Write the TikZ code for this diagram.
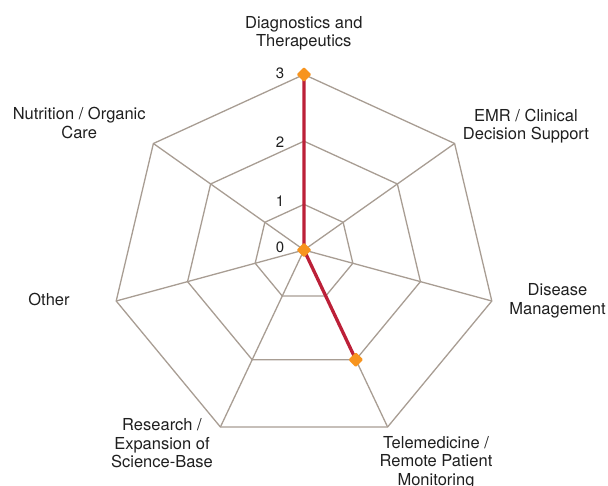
\documentclass[tikz,border=0pt]{standalone}
\usepackage{fontspec}
\setmainfont{TeX Gyre Heros}
\usetikzlibrary{calc,shapes.geometric}
\definecolor{gridc}{RGB}{168,157,147}
\definecolor{datared}{RGB}{188,32,56}
\definecolor{markorange}{RGB}{247,148,30}
\begin{document}
\begin{tikzpicture}[x=1pt,y=-1pt,
  grid/.style={draw=gridc, line width=1.3pt, line join=miter},
  series/.style={draw=datared, line width=3.3pt},
  marker/.style={diamond, fill=markorange, inner sep=0pt, minimum size=15pt, rounded corners=1.2pt},
  axlabel/.style={font=\fontsize{16.5}{18.3}\selectfont, align=center, anchor=north, inner sep=0pt, text=black!88},
  ticklabel/.style={font=\fontsize{15}{17}\selectfont, inner sep=0pt, text=black!88}]
\useasboundingbox (0,0) rectangle (608,486);
\coordinate (O) at (304,250);
\coordinate (A1) at (304,74.5);
\coordinate (A2) at (454.6,143.5);
\coordinate (A3) at (491.8,301);
\coordinate (A4) at (387.6,427);
\coordinate (A5) at (220.4,427);
\coordinate (A6) at (116.2,301);
\coordinate (A7) at (153.4,143.5);
% rings
\foreach \f in {0.26,0.62,1}{
  \draw[grid] ($(O)!\f!(A1)$) -- ($(O)!\f!(A2)$) -- ($(O)!\f!(A3)$) -- ($(O)!\f!(A4)$)
    -- ($(O)!\f!(A5)$) -- ($(O)!\f!(A6)$) -- ($(O)!\f!(A7)$) -- cycle;
}
% spokes
\foreach \i in {1,...,7}{ \draw[grid] (O) -- (A\i); }
\coordinate (B4) at ($(O)!0.62!(A4)$);
% series
\draw[series] (A1) -- (O) -- (B4);
\node[marker] (m0) at (O) {};
\node[marker] (m3) at (A1) {};
\node[marker] (m2) at (B4) {};
% tick labels
\node[ticklabel] (t3) at (280,73) {3};
\node[ticklabel] (t2) at (280,142) {2};
\node[ticklabel] (t1) at (280,201) {1};
\node[ticklabel] (t0) at (280,247) {0};
% axis labels
\node[axlabel] (l1) at (303.8,16.3) {Diagnostics and\\Therapeutics};
\node[axlabel] (l2) at (526,108.7) {EMR / Clinical\\Decision Support};
\node[axlabel] (l3) at (557.5,283.7) {Disease\\Management};
\node[axlabel] (l4) at (436,436.3) {Telemedicine /\\Remote Patient\\Monitoring};
\node[axlabel] (l5) at (162,418.7) {Research /\\Expansion of\\Science-Base};
\node[axlabel] (l6) at (49,293) {Other};
\node[axlabel] (l7) at (79.2,107.3) {Nutrition / Organic\\Care};
\end{tikzpicture}
\end{document}
